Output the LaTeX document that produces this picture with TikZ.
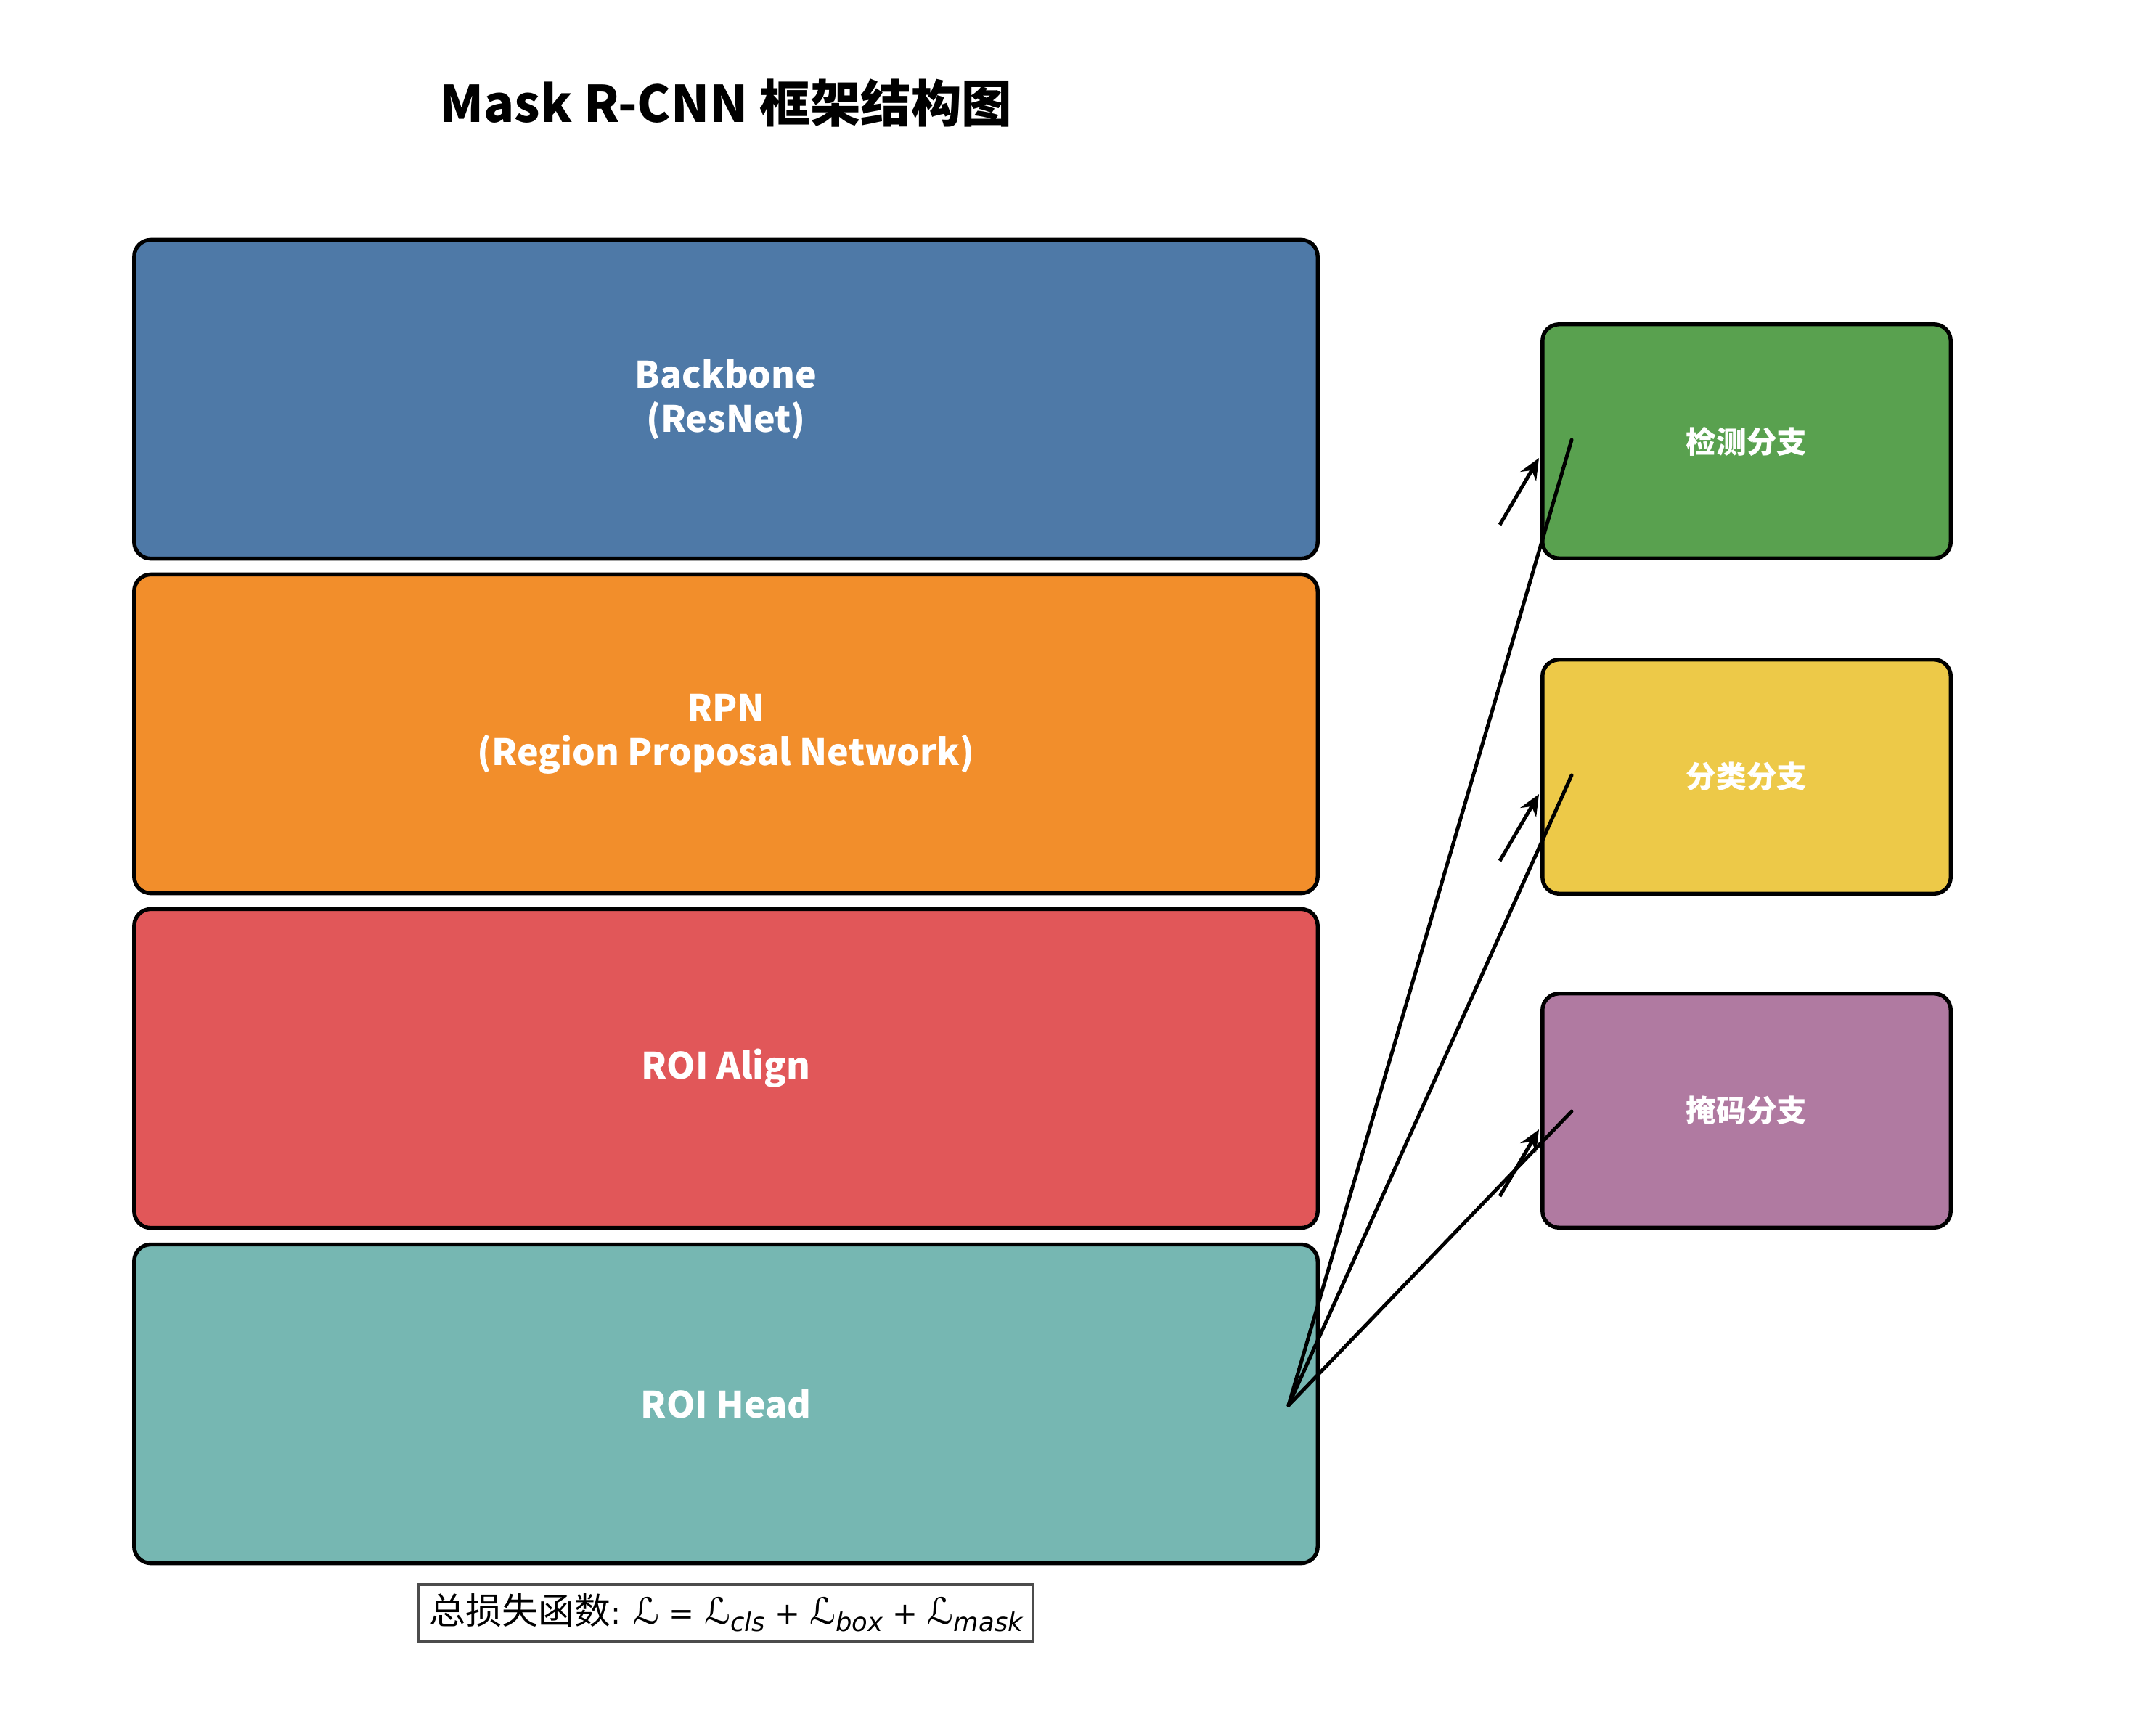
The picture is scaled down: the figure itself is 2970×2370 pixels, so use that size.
\documentclass[tikz,border=0pt]{standalone}
\usepackage{fontspec}
\setmainfont{Noto Sans CJK SC}
\newfontfamily\dejavu{DejaVu Sans}
\usetikzlibrary{arrows.meta, positioning}
\definecolor{bbBlue}  {HTML}{4E79A7}
\definecolor{rpnOrange}{HTML}{F28E2B}
\definecolor{alignRed}{HTML}{E15759}
\definecolor{headTeal}{HTML}{76B7B2}
\definecolor{detGreen}{HTML}{59A14F}
\definecolor{clsYellow}{HTML}{EDC948}
\definecolor{maskPurple}{HTML}{B07AA1}
\tikzset{
  stage/.style  = {rectangle, rounded corners=5.5pt, draw=black, line width=1.3pt,
                   minimum width=391.3pt, minimum height=105.4pt, align=center,
                   text=white, font=\fontsize{12}{14.6}\selectfont\bfseries},
  branch/.style = {rectangle, rounded corners=5.5pt, draw=black, line width=1.3pt,
                   minimum width=135pt, minimum height=77.4pt, align=center,
                   text=white, font=\fontsize{10}{12}\selectfont\bfseries},
  link/.style   = {line width=1.2pt, line cap=round},
  arrow/.style  = {-{Stealth[length=7pt, width=6pt]}, line width=1.2pt},
}
\newcommand{\lossL}[1]{\scalebox{1.2}{ℒ}\raisebox{-0.45ex}{\itshape\fontsize{8.5}{10}\selectfont #1}}

\begin{document}
\begin{tikzpicture}[x=0.24pt, y=-0.24pt]
  \useasboundingbox (0,0) rectangle (2970,2370);

  % ---- title ----
  \node[font=\fontsize{16.7}{18}\selectfont\bfseries] (title) at (1000,142) {Mask R-CNN 框架结构图};

  % ---- main stack (left column) ----
  \node[stage, fill=bbBlue]    (backbone) at (1000,550)  {Backbone\\(ResNet)};
  \node[stage, fill=rpnOrange] (rpn)      at (1000,1011) {RPN\\(Region Proposal Network)};
  \node[stage, fill=alignRed]  (roialign) at (1000,1472) {ROI Align};
  \node[stage, fill=headTeal]  (roihead)  at (1000,1934) {ROI Head};

  % ---- output branches (right column) ----
  \node[branch, fill=detGreen]   (detect)   at (2406,608)  {检测分支};
  \node[branch, fill=clsYellow]  (classify) at (2406,1070) {分类分支};
  \node[branch, fill=maskPurple] (maskbr)   at (2406,1530) {掩码分支};

  % ---- connector points ----
  \coordinate (hub) at (1775,1936);
  \coordinate (detIn)  at (2165,606);
  \coordinate (clsIn)  at (2165,1068);
  \coordinate (maskIn) at (2165,1531);
  \coordinate (detTail)  at (2066,723);   \coordinate (detTip)  at (2120,631);
  \coordinate (clsTail)  at (2066,1186);  \coordinate (clsTip)  at (2120,1094);
  \coordinate (maskTail) at (2066,1648);  \coordinate (maskTip) at (2120,1556);

  % ---- head -> branches ----
  \draw[link] (hub) -- (detIn);
  \draw[link] (hub) -- (clsIn);
  \draw[link] (hub) -- (maskIn);
  \draw[arrow] (detTail) -- (detTip);
  \draw[arrow] (clsTail) -- (clsTip);
  \draw[arrow] (maskTail) -- (maskTip);

  % ---- loss ----
  \node[draw=black!70, line width=0.9pt, inner xsep=3.5pt, inner ysep=3pt,
        font=\fontsize{12}{14}\selectfont] (loss) at (1000,2222)
        {总损失函数{\dejavu\fontsize{10}{12}\selectfont: \textit{\scalebox{1.2}{ℒ}} = \textit{\lossL{cls}} + \textit{\lossL{box}} + \textit{\lossL{mask}}}};
\end{tikzpicture}
\end{document}
